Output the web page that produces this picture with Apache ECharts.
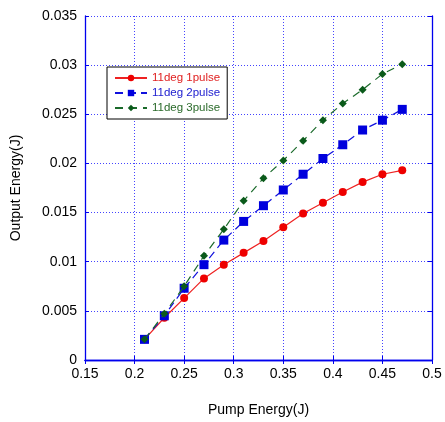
<!DOCTYPE html>
<html><head><meta charset="utf-8">
<script src="https://cdn.jsdelivr.net/npm/echarts@6/dist/echarts.min.js"></script>
<style>html,body{margin:0;padding:0;background:#fff}#c{width:445px;height:422px}</style>
</head><body><div id="c"></div>
<script>
const pump = [0.21,0.23,0.25,0.27,0.29,0.31,0.33,0.35,0.37,0.39,0.41,0.43,0.45,0.47];
const pulse1 = [0.0021,0.0043,0.0063,0.0083,0.0097,0.0109,0.0121,0.0135,0.0149,0.0160,0.0171,0.0181,0.0189,0.0193];
const pulse2 = [0.0021,0.0045,0.0073,0.0097,0.0122,0.0141,0.0157,0.0173,0.0189,0.0205,0.0219,0.0234,0.0244,0.0255];
const pulse3 = [0.0021,0.0047,0.0075,0.0106,0.0133,0.0162,0.0185,0.0203,0.0223,0.0244,0.0261,0.0275,0.0291,0.0301];
const names = ['11deg 1pulse','11deg 2pulse','11deg 3pulse'];
const xTicks = ['0.15','0.2','0.25','0.3','0.35','0.4','0.45','0.5'];
const yTicks = ['0','0.005','0.01','0.015','0.02','0.025','0.03','0.035'];

const blue = '#0000ee';
const font = 'Arial, "Liberation Sans", sans-serif';
const pair = (ys) => pump.map((x,i)=>[x, ys[i]]);
const gridLine = {show:true, lineStyle:{color:'#4444ff', type:[1,2], width:1}};
const chart = echarts.init(document.getElementById('c'));
chart.setOption({
  animation:false,
  grid:{left:85, right:13, top:16, bottom:62, containLabel:false},
  xAxis:[{
    type:'value', min:0.15, max:0.5, interval:0.05,
    name:'Pump Energy(J)', nameLocation:'middle', nameGap:43,
    nameTextStyle:{color:'#000', fontSize:14, fontFamily:font},
    axisLine:{show:true, lineStyle:{color:blue, width:1.3}},
    axisTick:{show:true, inside:true, length:4, lineStyle:{color:blue}},
    axisLabel:{color:'#000', fontSize:14, fontFamily:font, margin:7, formatter:(v)=>xTicks[Math.round((v-0.15)/0.05)]},
    splitLine:gridLine
  },{
    type:'value', position:'top', min:0.15, max:0.5, interval:0.05,
    axisLine:{show:true, lineStyle:{color:blue, width:1.3}},
    axisTick:{show:true, inside:true, length:4, lineStyle:{color:blue}},
    axisLabel:{show:false}, splitLine:{show:false}
  }],
  yAxis:[{
    type:'value', min:0, max:0.035, interval:0.005,
    name:'Output Energy(J)', nameLocation:'middle', nameGap:62,
    nameTextStyle:{color:'#000', fontSize:14, fontFamily:font},
    axisLine:{show:true, lineStyle:{color:blue, width:1.3}},
    axisTick:{show:true, inside:true, length:4, lineStyle:{color:blue}},
    axisLabel:{color:'#000', fontSize:14, fontFamily:font, margin:8, formatter:(v)=>yTicks[Math.round(v/0.005)]},
    splitLine:gridLine
  },{
    type:'value', position:'right', min:0, max:0.035, interval:0.005,
    axisLine:{show:true, lineStyle:{color:blue, width:1.3}},
    axisTick:{show:true, inside:true, length:4, lineStyle:{color:blue}},
    axisLabel:{show:false}, splitLine:{show:false}
  }],
  legend:{
    left:107, top:67, orient:'vertical',
    backgroundColor:'#fff', borderColor:'#000', borderWidth:1,
    padding:[5,7,5,7], itemGap:3, itemWidth:32, itemHeight:8,
    textStyle:{fontSize:11.5, fontFamily:font},
    data:[
      {name:names[0], textStyle:{color:'#e02020'}},
      {name:names[1], textStyle:{color:'#2020d0'}},
      {name:names[2], textStyle:{color:'#2a6a2a'}}
    ]
  },
  series:[
    {name:names[0], type:'line', data:pair(pulse1), symbol:'circle', symbolSize:8,
     itemStyle:{color:'#ee0000'}, lineStyle:{color:'#ee2222', width:1.2}, z:3},
    {name:names[1], type:'line', data:pair(pulse2), symbol:'rect', symbolSize:9,
     itemStyle:{color:'#0000dd'}, lineStyle:{color:'#1111dd', width:1.2, type:[8,5]}, z:4},
    {name:names[2], type:'line', data:pair(pulse3), symbol:'diamond', symbolSize:8,
     itemStyle:{color:'#0a5a1a'}, lineStyle:{color:'#1a6a2a', width:1.2, type:[8,6]}, z:5}
  ]
});
</script></body></html>
